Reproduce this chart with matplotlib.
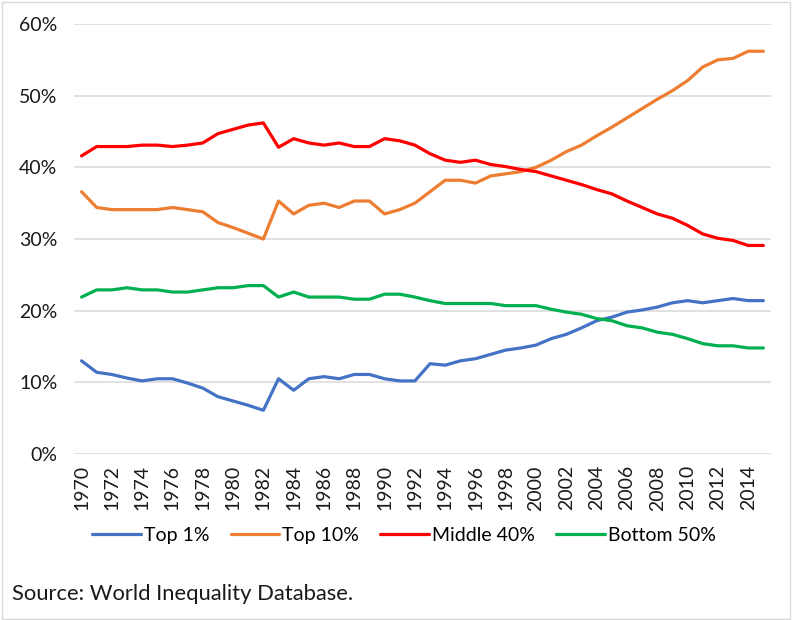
import matplotlib.pyplot as plt
from matplotlib.patches import Rectangle
from matplotlib.ticker import FuncFormatter

plt.rcParams["font.family"] = ["Lato", "DejaVu Sans"]

years = list(range(1970, 2016))

top1 = [13.0, 11.4, 11.1, 10.6, 10.2, 10.5, 10.5, 9.9, 9.2, 8.0,
        7.4, 6.8, 6.1, 10.5, 8.9, 10.5, 10.8, 10.5, 11.1, 11.1,
        10.5, 10.2, 10.2, 12.6, 12.4, 13.0, 13.3, 13.9, 14.5, 14.8,
        15.2, 16.1, 16.7, 17.6, 18.6, 19.1, 19.8, 20.1, 20.5, 21.1,
        21.4, 21.1, 21.4, 21.7, 21.4, 21.4]
top10 = [36.6, 34.4, 34.1, 34.1, 34.1, 34.1, 34.4, 34.1, 33.8, 32.3,
         31.6, 30.8, 30.0, 35.3, 33.5, 34.7, 35.0, 34.4, 35.3, 35.3,
         33.5, 34.1, 35.0, 36.6, 38.2, 38.2, 37.8, 38.8, 39.1, 39.4,
         40.0, 41.0, 42.2, 43.1, 44.4, 45.6, 46.9, 48.2, 49.5, 50.7,
         52.1, 54.0, 55.0, 55.2, 56.2, 56.2]
middle40 = [41.6, 42.9, 42.9, 42.9, 43.1, 43.1, 42.9, 43.1, 43.4, 44.7,
            45.3, 45.9, 46.2, 42.8, 44.0, 43.4, 43.1, 43.4, 42.9, 42.9,
            44.0, 43.7, 43.1, 41.9, 41.0, 40.7, 41.0, 40.4, 40.1, 39.7,
            39.4, 38.8, 38.2, 37.6, 36.9, 36.3, 35.3, 34.4, 33.5, 32.9,
            31.9, 30.7, 30.1, 29.8, 29.1, 29.1]
bottom50 = [21.9, 22.9, 22.9, 23.2, 22.9, 22.9, 22.6, 22.6, 22.9, 23.2,
            23.2, 23.5, 23.5, 21.9, 22.6, 21.9, 21.9, 21.9, 21.6, 21.6,
            22.3, 22.3, 21.9, 21.4, 21.0, 21.0, 21.0, 21.0, 20.7, 20.7,
            20.7, 20.2, 19.8, 19.5, 18.9, 18.6, 17.9, 17.6, 17.0, 16.7,
            16.1, 15.4, 15.1, 15.1, 14.8, 14.8]

series = [("Top 1%", top1, "#4472C4"),
          ("Top 10%", top10, "#ED7D31"),
          ("Middle 40%", middle40, "#FF0000"),
          ("Bottom 50%", bottom50, "#00B050")]

fig = plt.figure(figsize=(7.92, 6.2), dpi=100)
ax = fig.add_axes([0.0934, 0.2677, 0.88, 0.6936])

for name, vals, col in series:
    ax.plot(years, vals, color=col, lw=2.3, label=name, solid_capstyle="round")

ax.set_xlim(1969.5, 2015.5)
ax.set_ylim(0, 60)
ax.set_yticks(range(0, 61, 10))
ax.yaxis.set_major_formatter(FuncFormatter(lambda v, p: f"{v:.0f}%"))
ax.set_xticks(years[::2])
ax.tick_params(axis="x", rotation=90, length=0, labelsize=14, pad=8, colors="#1a1a1a")
ax.tick_params(axis="y", length=0, labelsize=14, pad=12, colors="#1a1a1a")
ax.grid(axis="y", color="#D9D9D9", lw=1.1)
ax.set_axisbelow(True)
for s in ax.spines.values():
    s.set_visible(False)

fig.legend(loc="center", bbox_to_anchor=(0.51, 0.137), ncol=4, frameon=False,
           fontsize=14, handlelength=2.5, columnspacing=1.1, handletextpad=0.15)

fig.text(0.015, 0.032, "Source: World Inequality Database.", fontsize=15.8, color="#1a1a1a")
fig.patches.append(Rectangle((0.002, 0.002), 0.996, 0.994, transform=fig.transFigure,
                             fill=False, edgecolor="#D9D9D9", lw=1))

fig.savefig("out.png", dpi=100)
